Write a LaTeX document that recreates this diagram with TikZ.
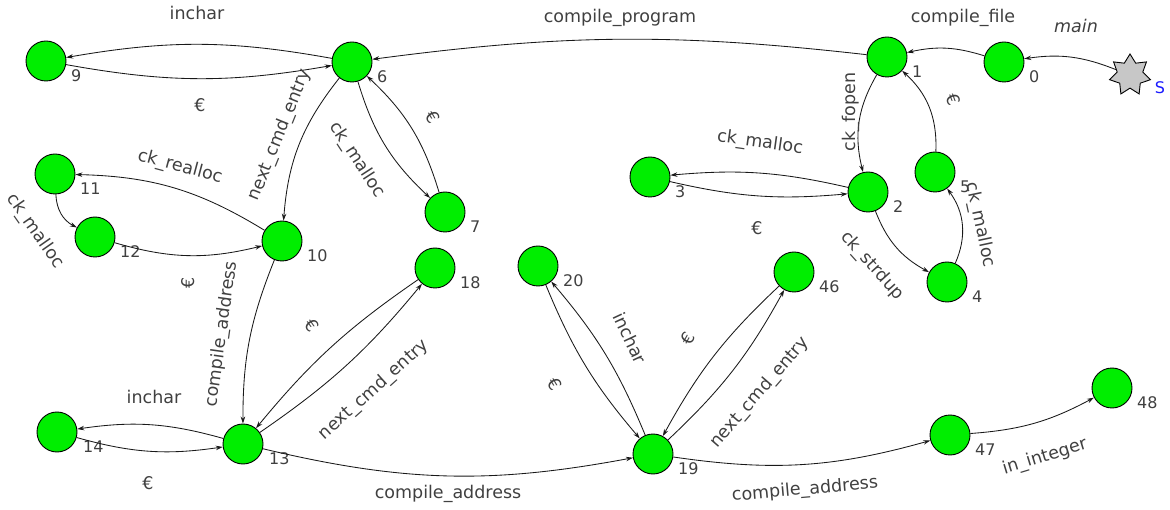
\documentclass[tikz,border=0pt]{standalone}
\usepackage{fontspec}
\setmainfont{DejaVu Sans}
\usetikzlibrary{shapes.geometric,arrows.meta}
\definecolor{stgreen}{HTML}{00EE00}
\definecolor{txt}{HTML}{404040}
\definecolor{sblue}{HTML}{1A1AFF}
\begin{document}
\begin{tikzpicture}[x=1pt,y=-1pt,
  st/.style={circle,draw=black,fill=stgreen,minimum size=40pt,inner sep=0pt,line width=0.9pt},
  startst/.style={star,star points=7,star point ratio=1.6,draw=black,fill=black!22,minimum size=42pt,inner sep=0pt,line width=0.9pt},
  num/.style={anchor=west,text=txt,font=\fontsize{16}{18}\selectfont,inner sep=0pt},
  lab/.style={text=txt,font=\fontsize{17.5}{19}\selectfont,inner sep=0pt},
  tr/.style={draw=black!90,line width=0.85pt,-{Stealth[length=7pt,width=4.5pt]}},
]
\useasboundingbox (0,0) rectangle (1170,510);
% states
\node[startst] (s) at (1130,75) {};
\node[text=sblue,font=\fontsize{16}{18}\selectfont] (sl) at (1160,88) {S};
\node[st] (n0) at (1004,62) {};
\node[st] (n1) at (887,57) {};
\node[st] (n2) at (868,192) {};
\node[st] (n3) at (650,177) {};
\node[st] (n4) at (947,282) {};
\node[st] (n5) at (935,172) {};
\node[st] (n6) at (352,62) {};
\node[st] (n7) at (445,212) {};
\node[st] (n9) at (46,61) {};
\node[st] (n10) at (282,241) {};
\node[st] (n11) at (55,174) {};
\node[st] (n12) at (95,237) {};
\node[st] (n13) at (243,444) {};
\node[st] (n14) at (57,432) {};
\node[st] (n18) at (435,268) {};
\node[st] (n19) at (653,454) {};
\node[st] (n20) at (538,266) {};
\node[st] (n46) at (794,272) {};
\node[st] (n47) at (950,435) {};
\node[st] (n48) at (1112,388) {};
% state numbers
\node[num] (l0) at (1029,77) {0};
\node[num] (l1) at (912,72) {1};
\node[num] (l2) at (893,207) {2};
\node[num] (l3) at (675,192) {3};
\node[num] (l4) at (972,297) {4};
\node[num] (l5) at (960,187) {5};
\node[num] (l6) at (377,77) {6};
\node[num] (l7) at (470,227) {7};
\node[num] (l9) at (71,76) {9};
\node[num] (l10) at (307,256) {10};
\node[num] (l11) at (80,189) {11};
\node[num] (l12) at (120,252) {12};
\node[num] (l13) at (269,459) {13};
\node[num] (l14) at (83,447) {14};
\node[num] (l18) at (460,283) {18};
\node[num] (l19) at (678,469) {19};
\node[num] (l20) at (563,281) {20};
\node[num] (l46) at (819,287) {46};
\node[num] (l47) at (975,450) {47};
\node[num] (l48) at (1137,403) {48};
% transitions
\draw[tr] (s) to[bend right=15] (n0);
\draw[tr] (n0) to[bend right=15] (n1);
\draw[tr] (n1) to[bend right=7] (n6);
\draw[tr] (n6) to[bend right=10] (n9);
\draw[tr] (n9) to[bend right=10] (n6);
\draw[tr] (n6) to[bend right=17] (n10);
\draw[tr] (n6) to[bend right=15] (n7);
\draw[tr] (n7) to[bend right=15] (n6);
\draw[tr] (n10) to[bend right=15] (n11);
\draw[tr] (n11) to[bend right=30] (n12);
\draw[tr] (n12) to[bend right=15] (n10);
\draw[tr] (n10) to[bend right=11] (n13);
\draw[tr] (n13) to[bend right=8] (n18);
\draw[tr] (n18) to[bend right=8] (n13);
\draw[tr] (n13) to[bend right=12] (n14);
\draw[tr] (n14) to[bend right=12] (n13);
\draw[tr] (n13) to[bend right=12] (n19);
\draw[tr] (n19) to[bend right=9] (n20);
\draw[tr] (n20) to[bend right=9] (n19);
\draw[tr] (n19) to[bend right=9] (n46);
\draw[tr] (n46) to[bend right=9] (n19);
\draw[tr] (n19) to[bend right=12] (n47);
\draw[tr] (n47) to[bend right=12] (n48);
\draw[tr] (n1) to[bend right=22] (n2);
\draw[tr] (n2) to[bend right=9] (n3);
\draw[tr] (n3) to[bend right=9] (n2);
\draw[tr] (n2) to[bend right=20] (n4);
\draw[tr] (n4) to[bend right=30] (n5);
\draw[tr] (n5) to[bend right=25] (n1);
% transition labels
\node[lab,font=\fontsize{17.5}{19}\selectfont\itshape] (t1) at (1076,26) {main};
\node[lab] (t2) at (963,18) {compile\_file};
\node[lab] (t3) at (620,18) {compile\_program};
\node[lab] (t4) at (197,13) {inchar};
\node[lab] (t5) at (200,105) {€};
\node[lab,rotate=68] (t6) at (280,135) {next\_cmd\_entry};
\node[lab,rotate=-57] (t7) at (357,160) {ck\_malloc};
\node[lab,rotate=-60] (t8) at (433,117) {€};
\node[lab,rotate=-15] (t9) at (180,167) {ck\_realloc};
\node[lab,rotate=-55] (t10) at (35,231) {ck\_malloc};
\node[lab,rotate=90] (t11) at (188,283) {€};
\node[lab,rotate=82] (t12) at (222,334) {compile\_address};
\node[lab,rotate=-55] (t13) at (312,325) {€};
\node[lab,rotate=42] (t14) at (374,390) {next\_cmd\_entry};
\node[lab] (t15) at (154,397) {inchar};
\node[lab] (t16) at (148,483) {€};
\node[lab] (t17) at (448,494) {compile\_address};
\node[lab,rotate=-65] (t18) at (630,338) {inchar};
\node[lab,rotate=-60] (t19) at (555,384) {€};
\node[lab,rotate=60] (t20) at (688,338) {€};
\node[lab,rotate=49] (t21) at (760,393) {next\_cmd\_entry};
\node[lab,rotate=5] (t22) at (805,490) {compile\_address};
\node[lab,rotate=17] (t23) at (1045,457) {in\_integer};
\node[lab,rotate=90] (t24) at (851,112) {ck\_fopen};
\node[lab,rotate=-70] (t25) at (953,100) {€};
\node[lab,rotate=-8] (t26) at (760,143) {ck\_malloc};
\node[lab] (t27) at (757,228) {€};
\node[lab,rotate=-48] (t28) at (872,266) {ck\_strdup};
\node[lab,rotate=-78] (t29) at (980,225) {ck\_malloc};
\end{tikzpicture}
\end{document}
